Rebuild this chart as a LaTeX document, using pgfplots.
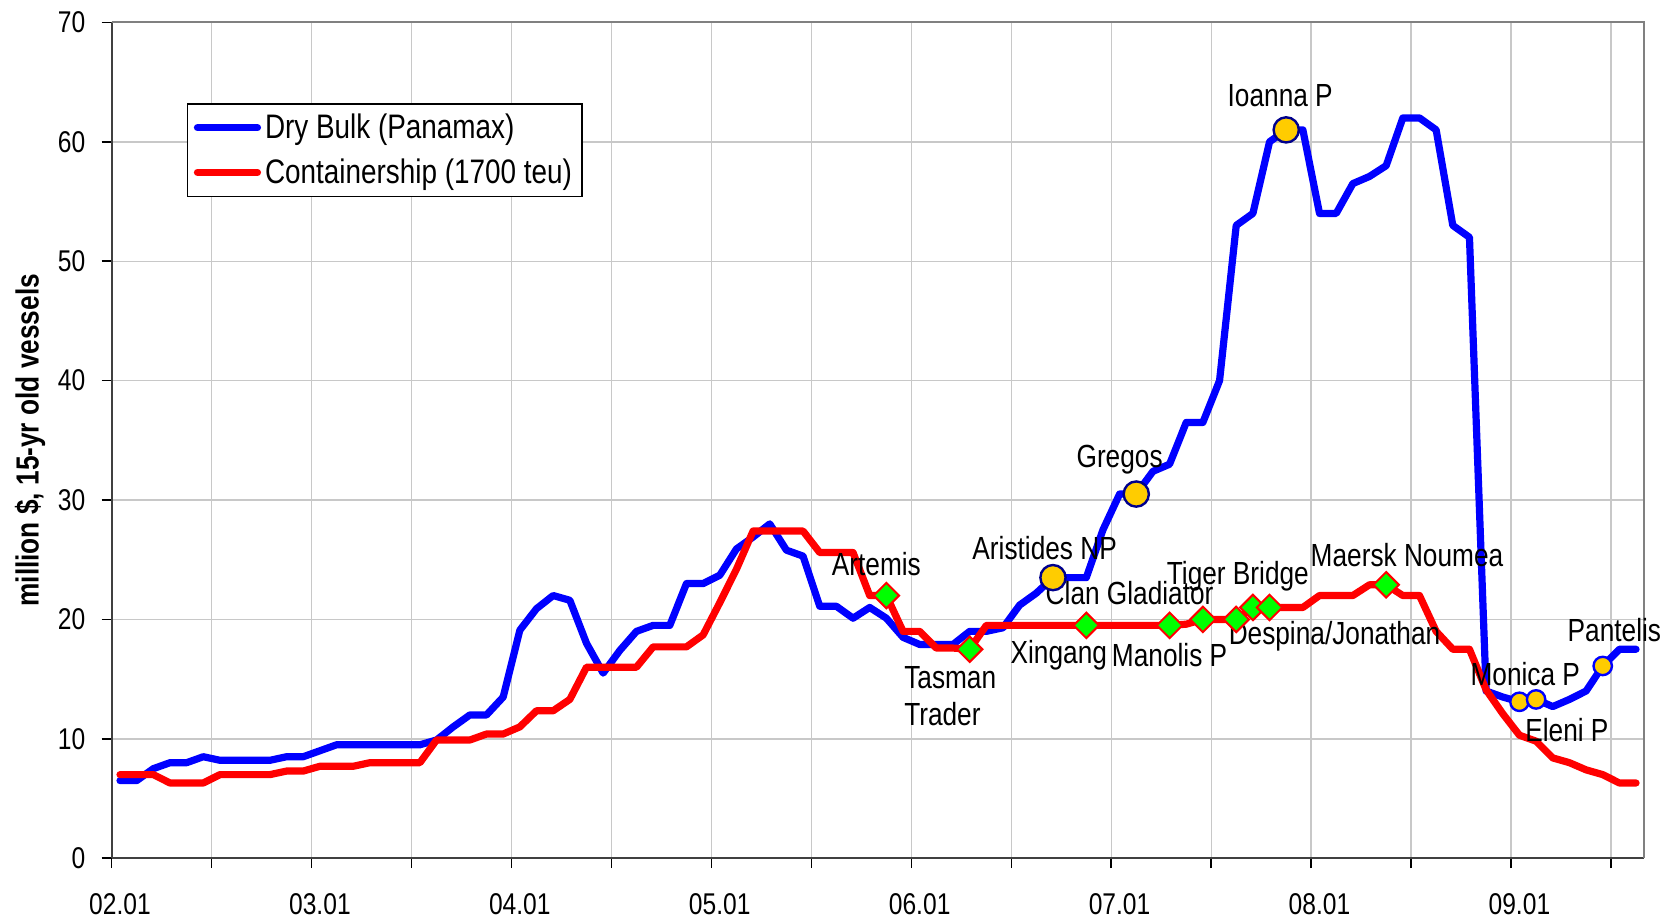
\documentclass[border=0pt]{standalone}
\usepackage{pgfplots}
\pgfplotsset{compat=1.18}
\usepackage{fontspec}
\IfFontExistsTF{Liberation Sans Narrow}{\setmainfont{Liberation Sans Narrow}}{\setmainfont{Liberation Sans}[FakeStretch=0.82]}
\definecolor{gridgray}{RGB}{200,200,200}
\definecolor{axisdark}{RGB}{64,64,64}
\definecolor{framegray}{RGB}{128,128,128}
\definecolor{gold}{RGB}{255,204,0}
\definecolor{navyb}{RGB}{0,0,140}
\definecolor{mgreen}{RGB}{0,255,0}

\pgfplotstableread{
x blue red
0.5 6.5 7.0
1.5 6.5 7.0
2.5 7.5 7.0
3.5 8.0 6.3
4.5 8.0 6.3
5.5 8.5 6.3
6.5 8.2 7.0
7.5 8.2 7.0
8.5 8.2 7.0
9.5 8.2 7.0
10.5 8.5 7.3
11.5 8.5 7.3
12.5 9.0 7.7
13.5 9.5 7.7
14.5 9.5 7.7
15.5 9.5 8.0
16.5 9.5 8.0
17.5 9.5 8.0
18.5 9.5 8.0
19.5 9.9 9.9
20.5 11.0 9.9
21.5 12.0 9.9
22.5 12.0 10.4
23.5 13.5 10.4
24.5 19.1 11.0
25.5 20.9 12.35
26.5 22.0 12.35
27.5 21.6 13.3
28.5 18.0 16.0
29.5 15.5 16.0
30.5 17.4 16.0
31.5 19.0 16.0
32.5 19.5 17.7
33.5 19.5 17.7
34.5 23.0 17.7
35.5 23.0 18.7
36.5 23.7 21.4
37.5 25.9 24.2
38.5 26.9 27.4
39.5 28.0 27.4
40.5 25.8 27.4
41.5 25.3 27.4
42.5 21.1 25.6
43.5 21.1 25.6
44.5 20.1 25.6
45.5 21.0 22.0
46.5 20.1 22.0
47.5 18.5 19.0
48.5 17.9 19.0
49.5 17.9 17.6
50.5 17.9 17.6
51.5 19.0 17.5
52.5 19.0 19.5
53.5 19.3 19.5
54.5 21.2 19.5
55.5 22.2 19.5
56.5 23.5 19.5
57.5 23.5 19.5
58.5 23.5 19.5
59.5 27.5 19.5
60.5 30.5 19.5
61.5 30.5 19.5
62.5 32.4 19.5
63.5 33.0 19.5
64.5 36.5 19.6
65.5 36.5 20.0
66.5 40.0 20.0
67.5 53.0 20.0
68.5 54.0 21.0
69.5 60.0 21.0
70.5 61.0 21.0
71.5 61.0 21.0
72.5 54.0 22.0
73.5 54.0 22.0
74.5 56.5 22.0
75.5 57.1 22.9
76.5 58.0 22.9
77.5 62.0 22.0
78.5 62.0 22.0
79.5 61.0 19.0
80.5 53.0 17.5
81.5 52.0 17.5
82.5 14.0 14.1
83.5 13.5 12.1
84.5 13.1 10.3
85.5 13.3 9.8
86.5 12.7 8.4
87.5 13.3 8.0
88.5 14.0 7.4
89.5 16.1 7.0
90.5 17.5 6.3
91.5 17.5 6.3
}\shipdata

\begin{document}
\begin{tikzpicture}
\begin{axis}[
  scale only axis, width=766.35pt, height=417.9pt,
  xmin=0, xmax=92, ymin=0, ymax=70,
  clip=false,
  axis x line*=bottom, axis y line*=left,
  axis line style={axisdark, line width=1pt},
  xtick={0,6,...,90},
  xticklabels={02.01,,03.01,,04.01,,05.01,,06.01,,07.01,,08.01,,09.01,},
  ytick={0,10,...,70},
  tick align=outside, major tick length=5pt,
  tick style={black, line width=0.8pt},
  xmajorgrids, ymajorgrids,
  grid style={gridgray, line width=0.7pt},
  /pgf/number format/assume math mode=true,
  ticklabel style={font=\fontsize{15}{18}\selectfont},
  xticklabel style={inner sep=0pt, anchor=north, xshift=4.15pt, yshift=-12.5pt},
  yticklabel style={inner sep=0pt, anchor=east, xshift=-8pt},
  ylabel={million \$, 15-yr old vessels},
  ylabel style={at={(axis description cs:-0.0533,0.5)}, anchor=center, font=\bfseries\fontsize{16}{19}\selectfont},
  legend style={at={(0.0493,0.9032)}, anchor=north west, draw=black, line width=0.6pt,
     font=\fontsize{17}{20}\selectfont, inner xsep=3pt, inner ysep=3pt, row sep=4.5pt},
  legend cell align=left,
  legend image code/.code={\draw[#1, line cap=round] (0pt,0pt) -- (30pt,0pt);},
]
\addplot[blue, line width=3.6pt, line join=round, line cap=round] table[x=x, y=blue] {\shipdata};
\addlegendentry{Dry Bulk (Panamax)}
\addplot[red, line width=3.6pt, line join=round, line cap=round] table[x=x, y=red] {\shipdata};
\addlegendentry{Containership (1700 teu)}
\addplot[forget plot, only marks, mark=square*, mark size=4.5pt,
  mark options={rotate=45, fill=mgreen, draw=red, line width=1pt}]
  coordinates {(46.5,22.0) (51.5,17.5) (58.5,19.5) (63.5,19.5) (65.5,20.0) (67.5,20.0) (68.5,21.0) (69.5,21.0) (76.5,22.9)};
\addplot[forget plot, only marks, mark=*, mark size=6.3pt,
  mark options={fill=gold, draw=navyb, line width=1.2pt}]
  coordinates {(56.5,23.5) (61.5,30.5) (70.5,61.0)};
\addplot[forget plot, only marks, mark=*, mark size=4.6pt,
  mark options={fill=gold, draw=blue, line width=1.2pt}]
  coordinates {(84.5,13.1) (85.5,13.3) (89.5,16.1)};
\draw[framegray, line width=1pt] (rel axis cs:0,1) -- (rel axis cs:1,1) -- (rel axis cs:1,0);
\begin{scope}[every node/.style={font=\fontsize{16}{18.65}\selectfont, inner sep=0pt}]
\node at (axis cs:70.14,63.85) {Ioanna P};
\node at (axis cs:60.5,33.4) {Gregos};
\node at (axis cs:56.0,25.95) {Aristides NP};
\node at (axis cs:45.9,24.6) {Artemis};
\node at (axis cs:61.1,22.2) {Clan Gladiator};
\node at (axis cs:67.6,23.6) {Tiger Bridge};
\node at (axis cs:77.75,25.4) {Maersk Noumea};
\node[anchor=west, align=left] at (axis cs:47.55,13.6) {Tasman\\Trader};
\node at (axis cs:56.85,17.0) {Xingang};
\node at (axis cs:63.5,17.0) {Manolis P};
\node at (axis cs:73.4,18.55) {Despina/Jonathan};
\node at (axis cs:84.85,15.43) {Monica P};
\node at (axis cs:87.35,10.7) {Eleni P};
\node at (axis cs:90.2,19.1) {Pantelis};
\end{scope}
\end{axis}
\pgfresetboundingbox
\useasboundingbox (-55.85pt,-32.4pt) rectangle (779.65pt,429.1pt);
\end{tikzpicture}
\end{document}
